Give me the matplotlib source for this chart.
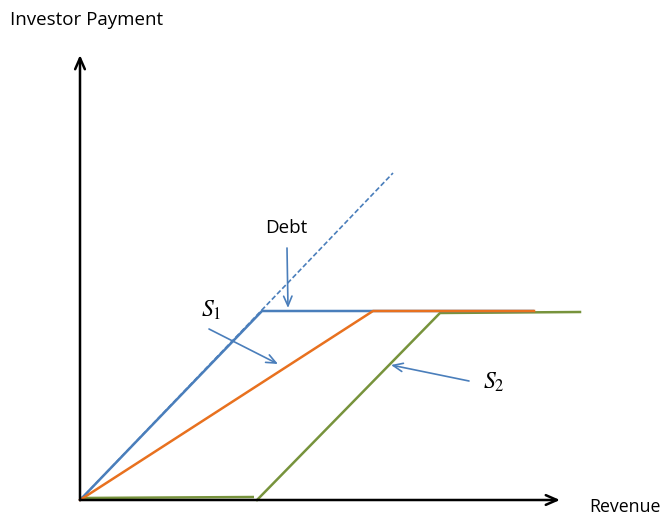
import matplotlib
matplotlib.use("Agg")
import matplotlib.pyplot as plt

# Data (units: revenue / investor payment, arbitrary)
debt_rev = [0, 182, 453]
debt_pay = [0, 189, 189]
s1_rev = [0, 293, 454]
s1_pay = [0, 189, 189]
s2_flat_rev = [0, 174]
s2_flat_pay = [2, 3]
s2_rev = [177, 360, 500]
s2_pay = [0, 187, 188]
full_rev = [0, 313]
full_pay = [0, 327]

BLUE = '#4A7EBB'
ORANGE = '#E8711F'
GREEN = '#77933C'

plt.rcParams['font.family'] = ['Open Sans', 'DejaVu Sans']
plt.rcParams['mathtext.fontset'] = 'stix'

fig = plt.figure(figsize=(6.71, 5.17), dpi=100)
ax = fig.add_axes([0, 0, 1, 1])
ax.set_xlim(-80, 591)
ax.set_ylim(-17, 500)
ax.axis('off')

# axes arrows
ax.annotate('', xy=(0, 445), xytext=(0, 0),
            arrowprops=dict(arrowstyle='->,head_length=0.8,head_width=0.35', color='black', lw=1.8, shrinkA=0, shrinkB=0))
ax.annotate('', xy=(480, 0), xytext=(0, 0),
            arrowprops=dict(arrowstyle='->,head_length=0.8,head_width=0.35', color='black', lw=1.8, shrinkA=0, shrinkB=0))

ax.plot(full_rev, full_pay, color=BLUE, lw=1.2, ls=(0, (3, 1.5)))
ax.plot(s2_flat_rev, s2_flat_pay, color=GREEN, lw=1.8, solid_capstyle='butt')
ax.plot(s2_rev, s2_pay, color=GREEN, lw=1.8)
ax.plot(debt_rev, debt_pay, color=BLUE, lw=1.8)
ax.plot(s1_rev, s1_pay, color=ORANGE, lw=1.8)

ax.text(-70, 480, 'Investor Payment', fontsize=13.5, ha='left', va='center')
ax.text(509, -7, 'Revenue', fontsize=12.8, ha='left', va='center')

arrow_kw = dict(arrowstyle='->,head_length=0.7,head_width=0.3', color=BLUE, lw=1.2, shrinkA=0, shrinkB=0)
ax.text(206, 272, 'Debt', fontsize=13.5, ha='center', va='center')
ax.annotate('', xy=(208, 192), xytext=(207, 252), arrowprops=arrow_kw)
ax.text(131, 189, '$S_1$', fontsize=17, ha='center', va='center')
ax.annotate('', xy=(198, 136), xytext=(129, 171), arrowprops=arrow_kw)
ax.text(414, 117, '$S_2$', fontsize=17, ha='center', va='center')
ax.annotate('', xy=(311, 135), xytext=(389, 119), arrowprops=arrow_kw)

fig.savefig('out.png', dpi=100)
